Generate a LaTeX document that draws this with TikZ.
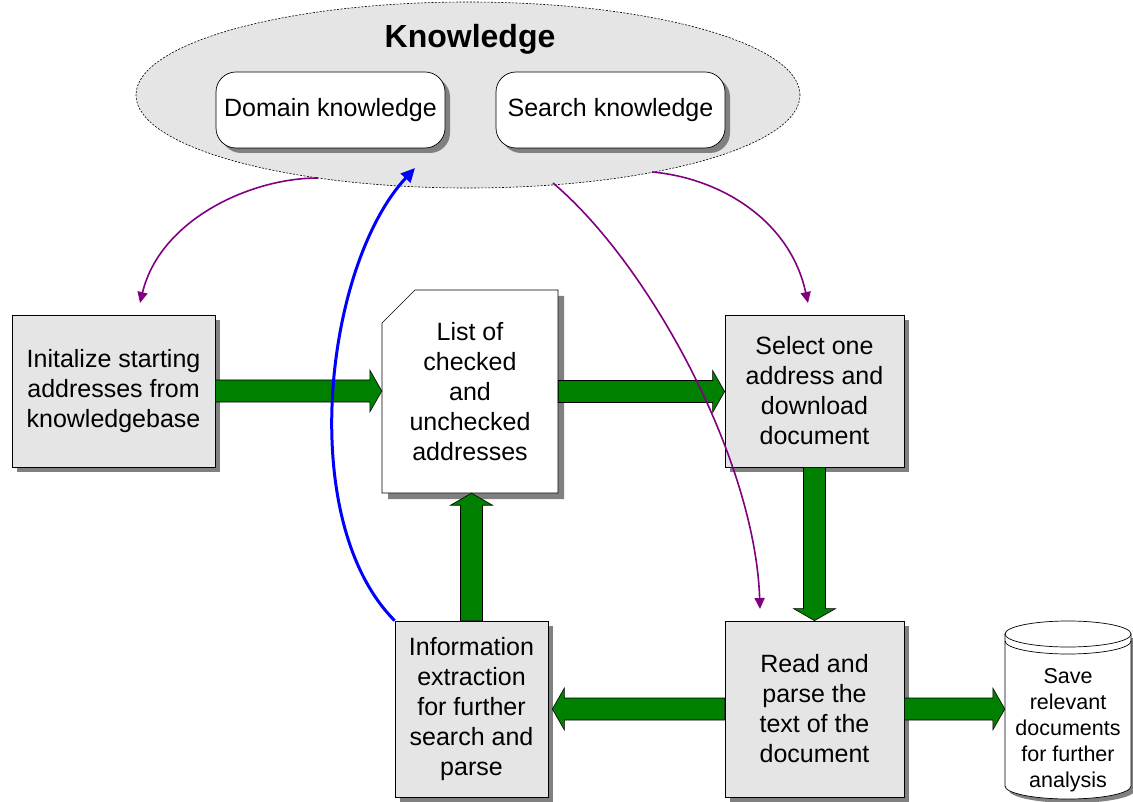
\documentclass[tikz,border=0pt]{standalone}
\usepackage{fontspec}
\setmainfont{Liberation Sans}
\usetikzlibrary{shapes.geometric,shadows,arrows.meta,calc}
\definecolor{dkgreen}{RGB}{0,128,0}
\definecolor{boxgray}{RGB}{229,229,229}
\definecolor{shgray}{RGB}{128,128,128}
\definecolor{purp}{RGB}{128,0,128}
\tikzset{
  shad/.style={drop shadow={shadow xshift=5pt, shadow yshift=-5pt, fill=shgray, opacity=1}},
  procbox/.style={rectangle, draw=black, line width=0.7pt, fill=boxgray, align=center,
    font=\fontsize{25}{30}\selectfont, inner sep=0pt, shad},
  knowbox/.style={rectangle, rounded corners=20pt, draw=black, line width=0.7pt, fill=white,
    font=\fontsize{25}{30}\selectfont, inner sep=0pt, minimum width=229pt, minimum height=76pt,
    drop shadow={shadow xshift=5pt, shadow yshift=-5pt, fill=shgray, opacity=1}},
  txt/.style={align=center, inner sep=0pt},
  fatarrow/.style={fill=dkgreen, draw=black, line width=0.6pt},
  kflow/.style={draw=purp, line width=1.6pt, -{Triangle[length=11pt,width=10pt]}},
  bflow/.style={draw=blue, line width=3pt, -{Triangle[length=14pt,width=13pt]}}
}
\newcommand\fatarrow[2]{%
  \coordinate (fa1) at #1; \coordinate (fa2) at #2;
  \coordinate (fah) at ($(fa2)!12pt!(fa1)$);
  \draw[fatarrow] ($(fa1)!11pt!90:(fa2)$) -- ($(fah)!11pt!90:(fa2)$) -- ($(fah)!21pt!90:(fa2)$)
    -- (fa2) -- ($(fah)!21pt!-90:(fa2)$) -- ($(fah)!11pt!-90:(fa2)$) -- ($(fa1)!11pt!-90:(fa2)$) -- cycle;
}
\begin{document}
\begin{tikzpicture}[x=1pt,y=-1pt]
\useasboundingbox[fill=white] (0,0) rectangle (1133,802);

% Knowledge ellipse
\node[ellipse, draw=black, dash pattern=on 2pt off 1.5pt, line width=0.6pt, fill=boxgray,
  minimum width=664pt, minimum height=186pt, inner sep=0pt] (know) at (468,95) {};
\node[txt, font=\fontsize{32}{36}\selectfont\bfseries] (ktitle) at (470,39) {Knowledge};
\node[knowbox] (dom) at (330.5,110) {\raisebox{-2pt}{Domain knowledge}};
\node[knowbox] (srch) at (610.5,110) {\raisebox{-2pt}{Search knowledge}};

% process boxes
\node[procbox, minimum width=203pt, minimum height=152pt] (init) at (113.5,391)
  {Initalize starting\\addresses from\\knowledgebase};
\node[procbox, minimum width=179pt, minimum height=152pt] (sel) at (814.5,391)
  {Select one\\address and\\download\\document};
\node[procbox, minimum width=179pt, minimum height=176pt] (read) at (814.5,709)
  {Read and\\parse the\\text of the\\document};
\node[procbox, minimum width=153pt, minimum height=176pt] (info) at (471.5,709)
  {Information\\extraction\\for further\\search and\\parse};

% list document (chamfered)
\fill[shgray] (388,329) -- (421,296) -- (564,296) -- (564,499) -- (388,499) -- cycle;
\filldraw[fill=white, draw=black, line width=0.7pt]
  (382,323) -- (415,290) -- (558,290) -- (558,493) -- (382,493) -- cycle;
\node[txt, minimum width=176pt, minimum height=203pt, font=\fontsize{25}{30}\selectfont] (list)
  at (470,391.5) {List of\\checked\\and\\unchecked\\addresses};

% cylinder
\fill[shgray] (1009,638) -- (1009,790) arc[start angle=180, end angle=360, x radius=63pt, y radius=13pt]
  -- (1135,638) -- cycle;
\filldraw[fill=white, draw=black, line width=0.7pt] (1005,634) -- (1005,786)
  arc[start angle=180, end angle=360, x radius=63pt, y radius=13pt] -- (1131,634)
  arc[start angle=0, end angle=180, x radius=63pt, y radius=13pt] -- cycle;
\draw[line width=0.7pt] (1005,634) arc[start angle=180, end angle=360, x radius=63pt, y radius=13pt];
\draw[line width=0.7pt] (1005,641) arc[start angle=180, end angle=360, x radius=63pt, y radius=13pt];
\node[txt, minimum width=126pt, font=\fontsize{21.5}{26}\selectfont] (cyl) at (1068,730)
  {Save\\relevant\\documents\\for further\\analysis};

% green flow arrows
\fatarrow{(init.east)}{(init.east -| list.west)}
\fatarrow{(list.east)}{(list.east -| sel.west)}
\fatarrow{(sel.south)}{(sel.south |- read.north)}
\fatarrow{(read.west)}{($(read.west -| info.east)+(4pt,0)$)}
\fatarrow{(read.east)}{(read.east -| cyl.west)}
\fatarrow{(info.north)}{(info.north |- list.south)}

% knowledge flows
\coordinate (k1) at (318,178);
\coordinate (k2) at (652,172);
\coordinate (k3) at (553,183);
\coordinate (e1) at (140,303);
\coordinate (e2) at (808,303);
\coordinate (e3) at (760,609);
\coordinate (b2) at (415,168);
\draw[kflow] (k1) .. controls (250,178) and (160,220) .. (e1);
\draw[kflow] (k2) .. controls (720,178) and (790,220) .. (e2);
\draw[kflow] (k3) .. controls (650,265) and (755,460) .. (e3);
\draw[bflow] (info.north west) .. controls (295,520) and (325,265) .. (b2);
\end{tikzpicture}
\end{document}
